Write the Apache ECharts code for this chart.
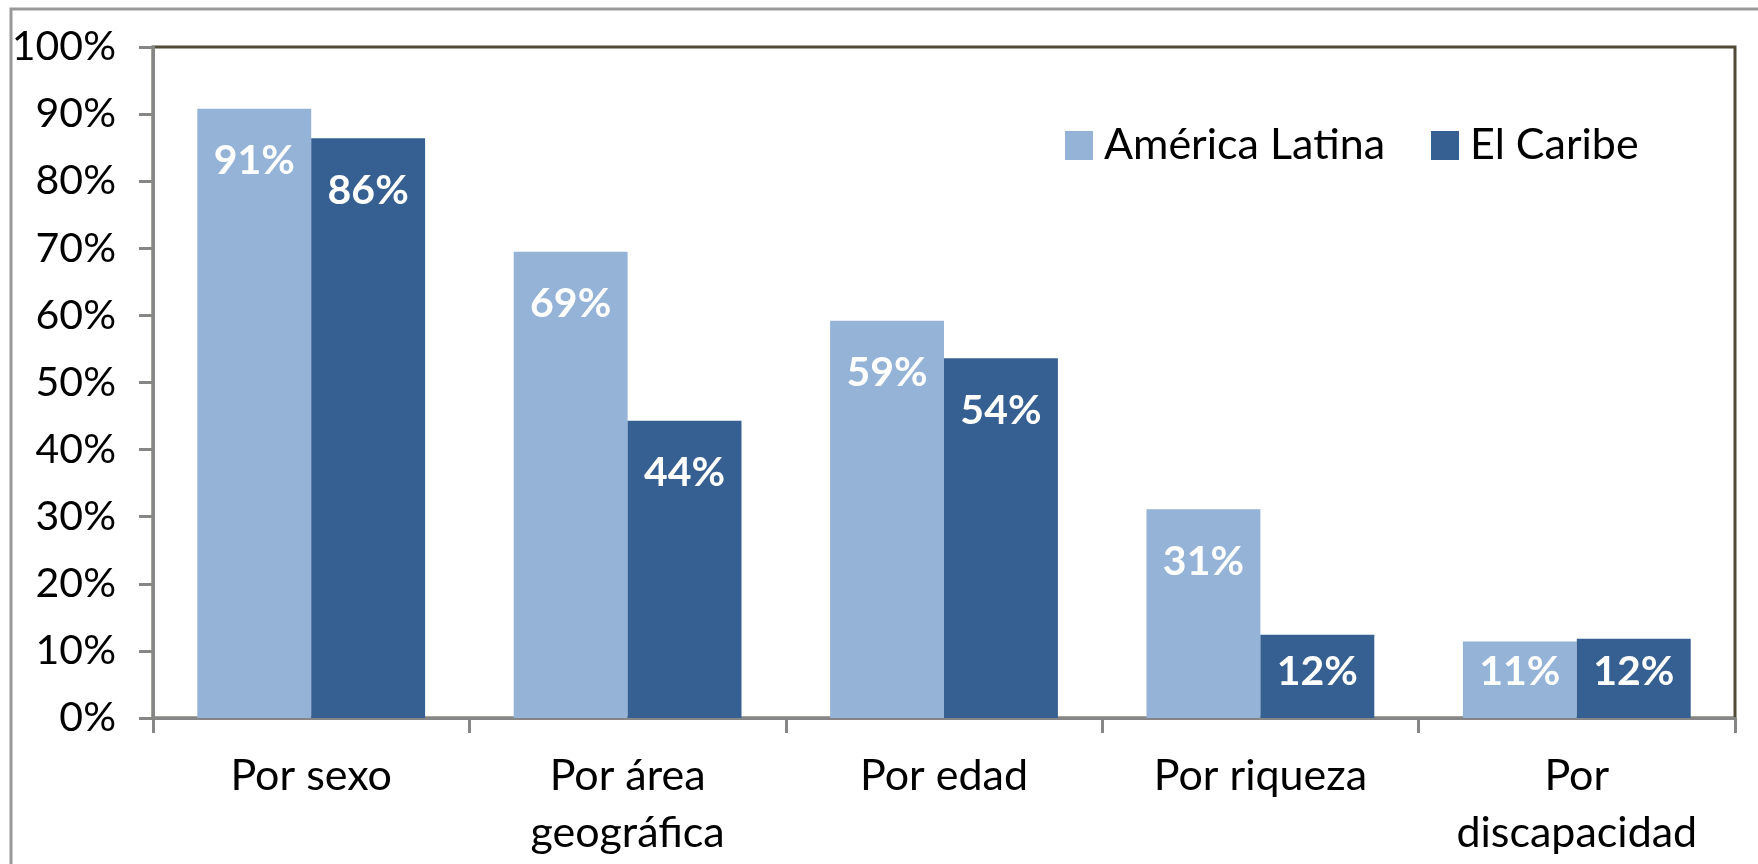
<!DOCTYPE html>
<html>
<head>
<meta charset="utf-8">
<script src="https://cdn.jsdelivr.net/npm/echarts@6/dist/echarts.min.js"></script>
<style>
html,body{margin:0;padding:0;background:#fff;}
#chart{width:1758px;height:864px;}
</style>
</head>
<body>
<div id="chart"></div>
<script>
const categories = ['Por sexo', 'Por área\ngeográfica', 'Por edad', 'Por riqueza', 'Por\ndiscapacidad'];
const seriesNames = ['América Latina', 'El Caribe'];
const americaLatina = [90.8, 69.49, 59.2, 31.1, 11.4];
const elCaribe = [86.4, 44.3, 53.6, 12.4, 11.8];
const yTicks = [0, 10, 20, 30, 40, 50, 60, 70, 80, 90, 100];

const FONT = 'Lato';
const colors = ['#95B3D7', '#366092'];

function items(vals) {
  return vals.map(v => ({
    value: v,
    label: v < 15
      ? { position: 'insideBottom', distance: 26 }
      : { position: 'insideTop', distance: 32 }
  }));
}

function barSeries(name, vals, color) {
  return {
    name: name,
    type: 'bar',
    data: items(vals),
    barGap: '0%',
    barCategoryGap: '28%',
    itemStyle: { color: color },
    label: {
      show: true,
      color: '#ffffff',
      fontFamily: FONT,
      fontSize: 41,
      fontWeight: 'bold',
      formatter: p => Math.round(p.value) + '%'
    }
  };
}

const chart = echarts.init(document.getElementById('chart'), null, { renderer: 'canvas' });
chart.setOption({
  animation: false,
  backgroundColor: '#ffffff',
  graphic: [{
    type: 'rect',
    shape: { x: 11, y: 9, width: 1800, height: 900 },
    style: { fill: 'none', stroke: '#999999', lineWidth: 3 },
    silent: true,
    z: 0
  }],
  grid: {
    left: 153, top: 47, right: 23, bottom: 146,
    show: true, borderColor: '#4F4B36', borderWidth: 3, backgroundColor: 'transparent'
  },
  legend: {
    data: seriesNames,
    left: 1060, top: 119,
    itemWidth: 28, itemHeight: 29, itemGap: 46,
    icon: 'rect',
    textStyle: { fontFamily: FONT, fontSize: 43, color: '#000', padding: [0, 0, 0, 6] }
  },
  xAxis: {
    type: 'category',
    data: categories,
    axisLine: { lineStyle: { color: '#868686', width: 3 } },
    axisTick: { show: true, length: 15, lineStyle: { color: '#868686', width: 3 } },
    axisLabel: { fontFamily: FONT, fontSize: 43, color: '#000', lineHeight: 57, margin: 30, interval: 0 }
  },
  yAxis: {
    type: 'value',
    min: 0, max: 100, interval: 10,
    axisLine: { show: true, lineStyle: { color: '#868686', width: 3 } },
    axisTick: { show: true, length: 14, lineStyle: { color: '#868686', width: 3 } },
    splitLine: { show: false },
    axisLabel: {
      fontFamily: FONT, fontSize: 41, color: '#000', margin: 37,
      formatter: v => yTicks.includes(v) ? v + '%' : ''
    }
  },
  series: [
    barSeries(seriesNames[0], americaLatina, colors[0]),
    barSeries(seriesNames[1], elCaribe, colors[1])
  ]
});
</script>
</body>
</html>
